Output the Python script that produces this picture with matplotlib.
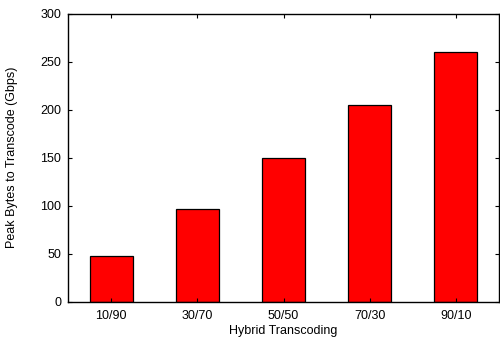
import matplotlib
matplotlib.use('Agg')
import matplotlib.pyplot as plt

# Data
categories = ['10/90', '30/70', '50/50', '70/30', '90/10']
peak_gbps = [48, 97, 150, 205, 260]

plt.rcParams['font.family'] = ['Liberation Sans', 'DejaVu Sans']

fig = plt.figure(figsize=(5.0, 3.39), dpi=100)
ax = fig.add_axes([0.136, 0.110, 0.862, 0.849])

x = range(len(categories))
ax.bar(x, peak_gbps, width=0.5, color='#ff0000', edgecolor='black', linewidth=0.9)

ax.set_xlim(-0.5, len(categories) - 0.5)
ax.set_ylim(0, 300)
ax.set_yticks(range(0, 301, 50))
ax.set_xticks(list(x))
ax.set_xticklabels(categories)

ax.tick_params(direction='in', length=3, width=0.8, labelsize=9,
               top=True, right=True)
ax.tick_params(axis='x', pad=6)
ax.tick_params(axis='y', pad=5)
for s in ax.spines.values():
    s.set_linewidth(1.0)

ax.set_xlabel('Hybrid Transcoding', fontsize=9, labelpad=2)
ax.set_ylabel('Peak Bytes to Transcode (Gbps)', fontsize=9, labelpad=16)

plt.savefig('out.png', dpi=100)
